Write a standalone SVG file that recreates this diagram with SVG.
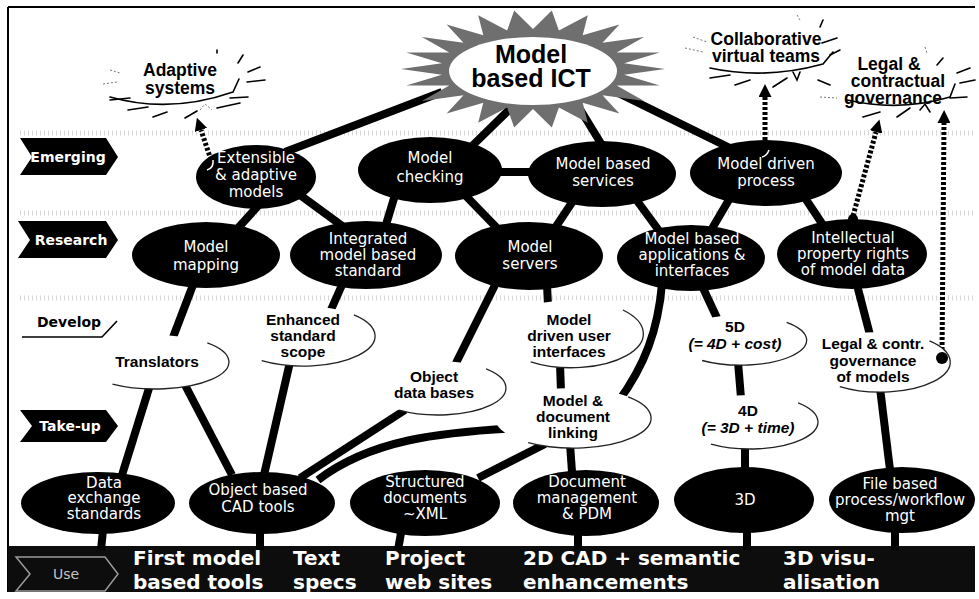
<svg xmlns="http://www.w3.org/2000/svg" width="979" height="599" viewBox="0 0 979 599">
  <defs>
    <style>
      .n { fill: #000; }
      .w { fill: #fff; }
      .wo { fill: none; stroke: #222; stroke-width: 1.3; }
      .c { stroke: #000; stroke-width: 8; fill: none; }
      .d { stroke: #000; stroke-width: 5; stroke-dasharray: 3 2; fill: none; }
      .sk { stroke: #000; stroke-width: 1.6; fill: none; stroke-linecap: round; }
      .skl { stroke: #777; stroke-width: 1; fill: none; stroke-dasharray: 2 2; }
      .band { stroke: #d6d6d6; stroke-width: 5; stroke-dasharray: 1 3; }
      .tw { font-family: "DejaVu Sans", "Noto Sans", sans-serif; font-size: 15px; fill: #fff; text-anchor: middle; }
      .tb { font-family: "Liberation Sans", Arial, sans-serif; font-weight: bold; font-size: 15.5px; fill: #000; text-anchor: middle; }
      .ti { font-style: italic; }
      .star { font-family: "Liberation Sans", Arial, sans-serif; font-weight: bold; font-size: 17.5px; fill: #000; text-anchor: middle; }
      .tag { font-family: "DejaVu Sans", sans-serif; font-weight: bold; font-size: 14px; fill: #fff; text-anchor: middle; }
      .bar { font-family: "DejaVu Sans", sans-serif; font-weight: bold; font-size: 20px; fill: #fff; }
    </style>
    <marker id="ah" viewBox="0 0 10 10" refX="0" refY="5" markerWidth="2.6" markerHeight="2.6" orient="auto">
      <path d="M0,0 L10,5 L0,10 Z" fill="#000"/>
    </marker>
  </defs>

  <rect width="979" height="599" fill="#fff"/>

  <!-- faint dotted band dividers -->
  <g id="bands">
    <line class="band" x1="20" y1="133" x2="975" y2="133"/>
    <line class="band" x1="20" y1="213" x2="975" y2="213"/>
    <line class="band" x1="20" y1="298" x2="975" y2="298"/>
  </g>

  <!-- frame -->
  <g id="frame" stroke="#000" stroke-width="2">
    <line x1="8" y1="7" x2="975" y2="7"/>
    <line x1="8" y1="7" x2="8" y2="592"/>
  </g>

  <!-- bottom "Use" bar -->
  <g id="use-bar">
    <rect x="8" y="546" width="967" height="46" fill="#0d0d0d"/>
    <path d="M16,557 L105,557 L118,574 L105,591 L16,591 L30,574 Z" fill="none" stroke="#9a9a9a" stroke-width="1.5"/>
    <text x="66" y="579" font-family="DejaVu Sans, sans-serif" font-size="14" fill="#c4c4c4" text-anchor="middle">Use</text>
    <text class="bar" x="133" y="565">First model</text>
    <text class="bar" x="133" y="589">based tools</text>
    <text class="bar" x="293" y="565">Text</text>
    <text class="bar" x="293" y="589">specs</text>
    <text class="bar" x="385" y="565">Project</text>
    <text class="bar" x="385" y="589">web sites</text>
    <text class="bar" x="523" y="565">2D CAD + semantic</text>
    <text class="bar" x="523" y="589">enhancements</text>
    <text class="bar" x="783" y="565">3D visu-</text>
    <text class="bar" x="783" y="589">alisation</text>
  </g>

  <!-- stage tags -->
  <g id="tag-emerging">
    <path d="M20,138 L106,138 L118,157 L106,175 L20,175 L32,157 Z" fill="#000"/>
    <text class="tag" x="68" y="162">Emerging</text>
  </g>
  <g id="tag-research">
    <path d="M18,221 L106,221 L118,240 L106,258 L18,258 L30,240 Z" fill="#000"/>
    <text class="tag" x="71" y="245">Research</text>
  </g>
  <g id="tag-develop">
    <path d="M22,337 L102,337 L117,321" fill="none" stroke="#000" stroke-width="1.6"/>
    <text class="tag" x="69" y="327" style="fill:#000">Develop</text>
  </g>
  <g id="tag-takeup">
    <path d="M20,410 L106,410 L118,426 L106,442 L20,442 L32,426 Z" fill="#000"/>
    <text class="tag" x="70" y="431">Take-up</text>
  </g>

  <!-- connectors -->
  <g id="connectors">
    <path class="c" d="M442,92 L285,152"/>
    <path class="c" d="M515,104 L470,148"/>
    <path class="c" d="M578,106 L605,150"/>
    <path class="c" d="M612,90 L730,148"/>
    <path class="c" d="M495,172 L535,172"/>
    <path class="c" d="M268,195 L238,228"/>
    <path class="c" d="M300,195 L345,228"/>
    <path class="c" d="M395,195 L385,228"/>
    <path class="c" d="M465,195 L497,228"/>
    <path class="c" d="M575,198 L555,228"/>
    <path class="c" d="M635,198 L660,232"/>
    <path class="c" d="M730,198 L710,232"/>
    <path class="c" d="M805,198 L825,228"/>
    <path class="c" d="M193,285 L172,340"/>
    <path class="c" d="M342,285 L330,312"/>
    <path class="c" d="M495,285 L455,365"/>
    <path class="c" d="M547,285 L548,305"/>
    <path class="c" d="M662,284 C658,330 645,365 618,402"/>
    <path class="c" d="M703,288 L717,318"/>
    <path class="c" d="M857,285 L870,335"/>
    <path class="c" d="M150,385 L122,475"/>
    <path class="c" d="M185,385 L232,475"/>
    <path class="c" d="M290,362 L264,475"/>
    <path class="c" d="M405,410 L300,478"/>
    <path class="c" d="M518,428 C440,432 370,440 318,480" stroke-width="9"/>
    <path class="c" d="M545,444 L478,478"/>
    <path class="c" d="M570,444 L572,472"/>
    <path class="c" d="M560,364 L561,392"/>
    <path class="c" d="M738,362 L741,398"/>
    <path class="c" d="M745,446 L745,470"/>
    <path class="c" d="M880,388 L890,470"/>
    <path class="c" d="M103,530 L101,550"/>
    <path class="c" d="M260,530 L260,550"/>
    <path class="c" d="M401,533 L398,550"/>
    <path class="c" d="M578,533 L578,550"/>
    <path class="c" d="M747,530 L747,550"/>
    <path class="c" d="M895,530 L895,550"/>
    <!-- dotted arrows towards the future goals -->
    <path class="d" d="M211,160 L201,130" marker-end="url(#ah)"/>
    <path class="d" d="M765,150 L765,97" marker-end="url(#ah)"/>
    <path class="d" d="M853,216 L876,132" marker-end="url(#ah)"/>
    <path class="d" d="M942,355 L944,123" marker-end="url(#ah)"/>
  </g>

  <!-- central burst -->
  <g id="model-based-ict">
    <polygon fill="#6f6f6f" points="665,69 624.1,74.7 659.7,85.6 616.7,85.6 644.1,100.9 602.5,95.2 619.4,113.6 582.7,102.7 587.8,122.7 558.9,107.4 551.8,127.4 533,109 514.2,127.4 507.1,107.4 478.2,122.7 483.3,102.7 446.6,113.6 463.5,95.2 421.9,100.9 449.3,85.6 406.3,85.6 441.9,74.7 401,69 441.9,63.3 406.3,52.4 449.3,52.4 421.9,37.1 463.5,42.8 446.6,24.4 483.3,35.3 478.2,15.3 507.1,30.6 514.2,10.6 533,29 551.8,10.6 558.9,30.6 587.8,15.3 582.7,35.3 619.4,24.4 602.5,42.8 644.1,37.1 616.7,52.4 659.7,52.4 624.1,63.3"/>
    <ellipse cx="533" cy="71" rx="84" ry="34" fill="#fff"/>
    <text x="531" y="63" font-family="Liberation Sans, Arial, sans-serif" font-weight="bold" font-size="25" text-anchor="middle">Model</text>
    <text x="531" y="87" font-family="Liberation Sans, Arial, sans-serif" font-weight="bold" font-size="25" text-anchor="middle">based ICT</text>
  </g>

  <!-- sketched goal bursts -->
  <g id="adaptive-systems">
    <path class="sk" d="M110,97 Q170,114 233,92 L239,79"/>
    <path class="sk" d="M238,63 L243,55 M248,72 L260,67 M247,82 L265,80 M230,98 L248,97 M217,108 L240,103 M185,118 L197,111 M153,117 L167,112 M128,110 L148,107 M110,100 L130,98 M217,53 L217,50"/>
    <path class="skl" d="M103,84 L117,82 M110,70 L120,73 M200,110 L205,104 L212,110"/>
    <text class="star" x="180" y="76">Adaptive</text>
    <text class="star" x="180" y="94">systems</text>
  </g>
  <g id="collaborative-teams">
    <path class="sk" d="M710,68 Q765,80 823,64 L833,52"/>
    <path class="sk" d="M822,43 L837,38 M830,55 L840,50 M820,27 L823,20 M710,78 L730,75 M735,85 L750,80 M773,87 L787,78 M818,80 L830,85 M793,72 L797,80 L800,72"/>
    <path class="skl" d="M685,48 L703,52 M693,37 L707,42 M797,15 L800,20"/>
    <text class="star" x="766" y="45">Collaborative</text>
    <text class="star" x="766" y="62">virtual teams</text>
  </g>
  <g id="legal-governance">
    <path class="sk" d="M847,100 Q900,112 950,97 L955,84"/>
    <path class="sk" d="M937,65 L943,58 M957,73 L970,68 M960,83 L975,80 M950,98 L967,97 M863,117 L880,112 M897,117 L910,108 M920,110 L925,104 L930,112"/>
    <path class="skl" d="M820,97 L837,98 M925,47 L927,53"/>
    <text class="star" x="889" y="70">Legal &amp;</text>
    <text class="star" x="898" y="87">contractual</text>
    <text class="star" x="893" y="104">governance</text>
  </g>

  <!-- emerging -->
  <g id="extensible-models">
    <ellipse class="n" cx="256" cy="177" rx="60" ry="32"/>
    <path d="M213,160 Q214,168 207,170" stroke="#fff" stroke-width="1.5" fill="none"/>
    <text class="tw" x="256" y="163">Extensible</text>
    <text class="tw" x="256" y="180">&amp; adaptive</text>
    <text class="tw" x="256" y="197">models</text>
  </g>
  <g id="model-checking">
    <ellipse class="n" cx="430" cy="170" rx="72" ry="33"/>
    <text class="tw" x="430" y="163">Model</text>
    <text class="tw" x="430" y="182">checking</text>
  </g>
  <g id="model-based-services">
    <ellipse class="n" cx="602" cy="174" rx="74" ry="33"/>
    <text class="tw" x="603" y="169">Model based</text>
    <text class="tw" x="603" y="186">services</text>
  </g>
  <g id="model-driven-process">
    <ellipse class="n" cx="766" cy="173" rx="76" ry="33"/>
    <path d="M769,150 Q767,156 762,157" stroke="#fff" stroke-width="1.5" fill="none"/>
    <text class="tw" x="766" y="169">Model driven</text>
    <text class="tw" x="766" y="186">process</text>
  </g>

  <!-- research -->
  <g id="model-mapping">
    <ellipse class="n" cx="206" cy="255" rx="74" ry="33"/>
    <text class="tw" x="206" y="252">Model</text>
    <text class="tw" x="206" y="270">mapping</text>
  </g>
  <g id="integrated-standard">
    <ellipse class="n" cx="366" cy="255" rx="76" ry="34"/>
    <text class="tw" x="368" y="244">Integrated</text>
    <text class="tw" x="368" y="260">model based</text>
    <text class="tw" x="368" y="276">standard</text>
  </g>
  <g id="model-servers">
    <ellipse class="n" cx="529" cy="256" rx="74" ry="34"/>
    <text class="tw" x="530" y="252">Model</text>
    <text class="tw" x="530" y="269">servers</text>
  </g>
  <g id="model-based-applications">
    <ellipse class="n" cx="691" cy="258" rx="74" ry="33"/>
    <text class="tw" x="692" y="244">Model based</text>
    <text class="tw" x="692" y="260">applications &amp;</text>
    <text class="tw" x="692" y="276">interfaces</text>
  </g>
  <g id="intellectual-property">
    <ellipse class="n" cx="852" cy="254" rx="75" ry="35"/>
    <circle cx="853" cy="219" r="5" fill="#000"/>
    <text class="tw" x="853" y="243">Intellectual</text>
    <text class="tw" x="853" y="259">property rights</text>
    <text class="tw" x="853" y="275">of model data</text>
  </g>

  <!-- develop / take-up (light) -->
  <g id="translators">
    <ellipse class="w" cx="155" cy="362" rx="74" ry="27"/>
    <path class="wo" d="M207.3,342.9 A74,27 0 0 1 112.5,384.1"/>
    <text class="tb" x="157" y="367">Translators</text>
  </g>
  <g id="enhanced-scope">
    <ellipse class="w" cx="303" cy="336" rx="72" ry="30"/>
    <path class="wo" d="M353.9,314.8 A72,30 0 0 1 261.7,360.6"/>
    <text class="tb" x="303" y="325">Enhanced</text>
    <text class="tb" x="303" y="341">standard</text>
    <text class="tb" x="303" y="357">scope</text>
  </g>
  <g id="object-databases">
    <ellipse class="w" cx="438" cy="388" rx="68" ry="27"/>
    <path class="wo" d="M486.1,368.9 A68,27 0 0 1 399,410.1"/>
    <text class="tb" x="434" y="382">Object</text>
    <text class="tb" x="434" y="398">data bases</text>
  </g>
  <g id="model-driven-ui">
    <ellipse class="w" cx="572" cy="334" rx="72" ry="34"/>
    <path class="wo" d="M622.9,310 A72,34 0 0 1 530.7,361.8"/>
    <text class="tb" x="569" y="325">Model</text>
    <text class="tb" x="569" y="341">driven user</text>
    <text class="tb" x="569" y="357">interfaces</text>
  </g>
  <g id="five-d">
    <ellipse class="w" cx="740" cy="340" rx="66" ry="25"/>
    <path class="wo" d="M786.7,322.3 A66,25 0 0 1 702.1,360.5"/>
    <text class="tb" x="735" y="332">5D</text>
    <text class="tb ti" x="735" y="349">(= 4D + cost)</text>
  </g>
  <g id="legal-contr-models">
    <ellipse class="w" cx="880" cy="362" rx="70" ry="30"/>
    <path class="wo" d="M929.5,340.8 A70,30 0 0 1 839.8,386.6"/>
    <circle cx="942" cy="358" r="6" fill="#000"/>
    <text class="tb" x="873" y="349">Legal &amp; contr.</text>
    <text class="tb" x="873" y="366">governance</text>
    <text class="tb" x="873" y="382">of models</text>
  </g>
  <g id="model-document-linking">
    <ellipse class="w" cx="573" cy="418" rx="78" ry="30"/>
    <path class="wo" d="M628.1,396.8 A78,30 0 0 1 528.2,442.6"/>
    <text class="tb" x="573" y="406">Model &amp;</text>
    <text class="tb" x="573" y="422">document</text>
    <text class="tb" x="573" y="438">linking</text>
  </g>
  <g id="four-d">
    <ellipse class="w" cx="750" cy="422" rx="68" ry="27"/>
    <path class="wo" d="M798.1,402.9 A68,27 0 0 1 711,444.1"/>
    <text class="tb" x="748" y="416">4D</text>
    <text class="tb ti" x="748" y="433">(= 3D + time)</text>
  </g>

  <!-- established tools -->
  <g id="data-exchange">
    <ellipse class="n" cx="98" cy="503" rx="77" ry="31"/>
    <text class="tw" x="104" y="488">Data</text>
    <text class="tw" x="104" y="503">exchange</text>
    <text class="tw" x="104" y="519">standards</text>
  </g>
  <g id="object-cad">
    <ellipse class="n" cx="262" cy="503" rx="73" ry="31"/>
    <text class="tw" x="258" y="495">Object based</text>
    <text class="tw" x="258" y="512">CAD tools</text>
  </g>
  <g id="structured-documents">
    <ellipse class="n" cx="425" cy="503" rx="75" ry="33"/>
    <text class="tw" x="425" y="487">Structured</text>
    <text class="tw" x="425" y="503">documents</text>
    <text class="tw" x="425" y="519">~XML</text>
  </g>
  <g id="document-management">
    <ellipse class="n" cx="586" cy="503" rx="73" ry="33"/>
    <text class="tw" x="587" y="487">Document</text>
    <text class="tw" x="587" y="503">management</text>
    <text class="tw" x="587" y="519">&amp; PDM</text>
  </g>
  <g id="three-d">
    <ellipse class="n" cx="744" cy="500" rx="70" ry="33"/>
    <text class="tw" x="745" y="505">3D</text>
  </g>
  <g id="file-based-workflow">
    <ellipse class="n" cx="902" cy="500" rx="73" ry="33"/>
    <text class="tw" x="900" y="489">File based</text>
    <text class="tw" x="900" y="505">process/workflow</text>
    <text class="tw" x="900" y="521">mgt</text>
  </g>
</svg>
